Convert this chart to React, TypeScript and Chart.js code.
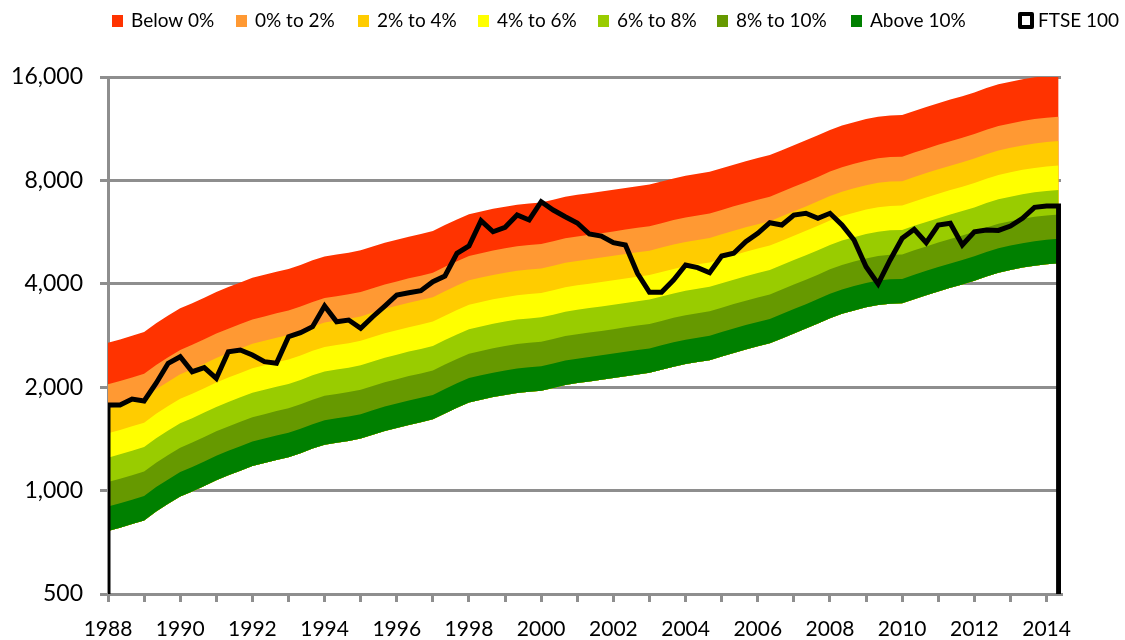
import React, { useEffect, useRef } from "react";
import { Chart, registerables } from "chart.js";

Chart.register(...registerables);

// ---- data ----
const startYear = 1988;
const pointsPerYear = 3; // one observation every four months

// FTSE 100 index level
const ftse100 = [
  1776, 1776, 1848, 1824, 2054, 2348, 2454, 2219, 2280, 2123,
  2537, 2567, 2481, 2373, 2348, 2805, 2882, 3000, 3446, 3100,
  3137, 2968, 3208, 3446, 3711, 3769, 3819, 4056, 4214, 4907,
  5155, 6105, 5670, 5840, 6343, 6135, 6935, 6560, 6272, 6013,
  5585, 5510, 5268, 5188, 4292, 3779, 3779, 4103, 4538, 4457,
  4308, 4819, 4907, 5303, 5610, 6024, 5933, 6343, 6416, 6205,
  6416, 5933, 5366, 4485, 3995, 4692, 5427, 5764, 5268, 5933,
  6001, 5188, 5670, 5736, 5720, 5893, 6205, 6680, 6737, 6737,
];

// lower edge of the "Above 10%" band
const bandFloor = [
  763, 780, 799, 819, 869, 915, 961, 994, 1032, 1072,
  1108, 1143, 1179, 1203, 1228, 1251, 1285, 1325, 1360, 1378,
  1395, 1417, 1454, 1491, 1521, 1553, 1581, 1612, 1678, 1742,
  1805, 1838, 1872, 1899, 1925, 1940, 1954, 1990, 2030, 2056,
  2079, 2102, 2127, 2153, 2178, 2202, 2248, 2294, 2335, 2367,
  2398, 2457, 2516, 2575, 2630, 2683, 2774, 2868, 2962, 3065,
  3176, 3271, 3345, 3416, 3471, 3501, 3509, 3608, 3704, 3800,
  3893, 3984, 4084, 4204, 4311, 4387, 4459, 4518, 4559, 4589,
];

// bands listed bottom to top
const bandLabels = ["Above 10%", "8% to 10%", "6% to 8%", "4% to 6%", "2% to 4%", "0% to 2%", "Below 0%"];
// ratio top edge / bottom edge of each band
const bandRatios = [1.178, 1.178, 1.178, 1.178, 1.178, 1.178, 1.322];
const ftseLabel = "FTSE 100";

const yTicks = [500, 1000, 2000, 4000, 8000, 16000];
const xLabelYears = [1988, 1990, 1992, 1994, 1996, 1998, 2000, 2002, 2004, 2006, 2008, 2010, 2012, 2014];

// ---- styles ----
const bandColors = ["#008000", "#669900", "#99CC00", "#FFFF00", "#FFCC00", "#FF9933", "#FF3300"];
const FONT = "Lato, 'Open Sans', sans-serif";
const GREY = "#8e8e8e";
const Y_MIN = 500;
const Y_MAX = 16000;
const X_MIN = 1988;
const X_MAX = 2014.4;

const times = ftse100.map((_, i) => startYear + i / pointsPerYear);

function buildDatasets() {
  const datasets: any[] = [];
  let edge = bandFloor.slice();
  const baseIndex = bandLabels.length;
  bandLabels.forEach((label, k) => {
    edge = edge.map((v) => v * bandRatios[k]);
    datasets.push({
      label,
      data: edge.map((v, i) => ({ x: times[i], y: v })),
      backgroundColor: bandColors[k],
      borderColor: "rgba(0,0,0,0)",
      borderWidth: 0,
      pointRadius: 0,
      fill: baseIndex,
      order: 1,
      tension: 0,
    });
  });
  datasets.push({
    label: "_base",
    data: bandFloor.map((v, i) => ({ x: times[i], y: v })),
    borderColor: "rgba(0,0,0,0)",
    backgroundColor: "rgba(0,0,0,0)",
    borderWidth: 0,
    pointRadius: 0,
    fill: false,
    order: 1,
  });
  const last = times[times.length - 1];
  datasets.push({
    label: ftseLabel,
    data: [
      { x: times[0], y: Y_MIN },
      ...ftse100.map((v, i) => ({ x: times[i], y: v })),
      { x: last, y: Y_MIN },
    ],
    borderColor: "#000000",
    backgroundColor: "#ffffff",
    borderWidth: 5,
    pointRadius: 0,
    fill: false,
    order: -1,
    tension: 0,
  });
  return datasets;
}

const legendBoxX = [112, 236, 358, 478, 598, 717, 851, 1018];

const customLegend = {
  id: "customLegend",
  afterDraw(chart: any) {
    const { ctx } = chart;
    ctx.save();
    ctx.font = `19px ${FONT}`;
    ctx.textBaseline = "middle";
    ctx.textAlign = "left";
    const cy = 21;
    const ds = chart.data.datasets;
    const order = bandLabels.map((_, k) => bandLabels.length - 1 - k);
    order.forEach((k, n) => {
      const x = legendBoxX[n];
      ctx.fillStyle = ds[k].backgroundColor;
      ctx.fillRect(x, cy - 6, 11, 12);
      ctx.fillStyle = "#000";
      ctx.fillText(ds[k].label, x + 19, cy);
    });
    const fx = legendBoxX[7];
    ctx.fillStyle = "#fff";
    ctx.fillRect(fx + 2, cy - 7, 12, 13);
    ctx.strokeStyle = "#000";
    ctx.lineWidth = 4;
    ctx.lineJoin = "round";
    ctx.strokeRect(fx + 2, cy - 7, 12, 13);
    ctx.fillStyle = "#000";
    ctx.fillText(ftseLabel, fx + 20, cy);
    ctx.restore();
  },
};

export default function App() {
  const ref = useRef<HTMLCanvasElement>(null);
  useEffect(() => {
    if (!ref.current) return;
    const yearTicks: number[] = [];
    for (let y = X_MIN; y <= Math.floor(X_MAX); y++) yearTicks.push(y);
    const chart = new Chart(ref.current, {
      type: "line",
      data: { datasets: buildDatasets() },
      plugins: [customLegend],
      options: {
        animation: false,
        responsive: false,
        devicePixelRatio: 1,
        events: [],
        layout: { padding: { top: 77, right: 64, left: 0, bottom: 0 } },
        plugins: {
          legend: { display: false },
          tooltip: { enabled: false },
        },
        scales: {
          x: {
            type: "linear",
            min: X_MIN,
            max: X_MAX,
            afterBuildTicks: (axis: any) => {
              axis.ticks = yearTicks.map((v) => ({ value: v }));
            },
            afterFit: (axis: any) => {
              axis.height = 46;
            },
            grid: { drawOnChartArea: false, drawTicks: true, tickLength: 8, color: GREY, lineWidth: 3 },
            border: { display: true, color: GREY, width: 3 },
            ticks: {
              autoSkip: false,
              maxRotation: 0,
              minRotation: 0,
              padding: 15,
              color: "#000",
              font: { family: FONT, size: 21 },
              callback: (v: any) => (xLabelYears.includes(Number(v)) ? String(v) : ""),
            },
          },
          y: {
            type: "logarithmic",
            min: Y_MIN,
            max: Y_MAX,
            afterBuildTicks: (axis: any) => {
              axis.ticks = yTicks.map((v) => ({ value: v }));
            },
            afterFit: (axis: any) => {
              axis.width = 108;
            },
            grid: { color: GREY, lineWidth: 3, drawTicks: true, tickLength: 8, z: -1 },
            border: { display: true, color: GREY, width: 3 },
            ticks: {
              padding: 17,
              color: "#000",
              font: { family: FONT, size: 23 },
              callback: (v: any) => Number(v).toLocaleString("en-US"),
            },
          },
        },
      } as any,
    });
    return () => chart.destroy();
  }, []);
  return (
    <div style={{ position: "fixed", left: 0, top: 0, width: 1125, height: 640, background: "#fff" }}>
      <canvas ref={ref} width={1125} height={640} style={{ display: "block" }} />
    </div>
  );
}
